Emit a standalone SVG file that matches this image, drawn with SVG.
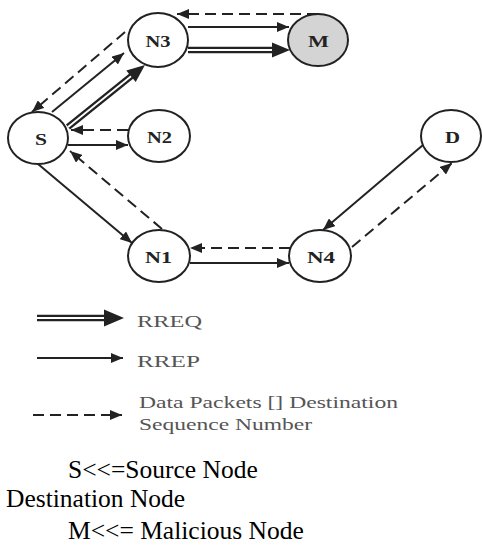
<svg xmlns="http://www.w3.org/2000/svg" width="482" height="545" viewBox="0 0 482 545">
<style>
.node{fill:#fff;stroke:#222;stroke-width:2}
.mal{fill:#d4d4d4;stroke:#222;stroke-width:2}
.lbl{font-family:"Liberation Serif",serif;font-weight:bold;font-size:17px;fill:#222;text-anchor:middle}
.solid{fill:none;stroke:#222;stroke-width:2}
.dash{fill:none;stroke:#222;stroke-width:2;stroke-dasharray:11 6}
.dbl{fill:none;stroke:#222;stroke-width:6.5}
.dblin{fill:none;stroke:#fff;stroke-width:1.8}
.head{fill:#222}
.leg{font-family:"Liberation Serif",serif;font-size:17px;fill:#555}
.cap{font-family:"Liberation Serif",serif;font-size:25.5px;fill:#000}
</style>
<defs>
<marker id="ah" viewBox="0 0 12 10" refX="12" refY="5" markerWidth="12" markerHeight="10" orient="auto" markerUnits="userSpaceOnUse"><path d="M0,0 L12,5 L0,10 z" fill="#222"/></marker>
</defs>
<g id="connectors">
<!-- RREQ double -->
<path class="dbl" d="M68,127 L132,75.5"/>
<path class="dblin" d="M68,127 L132,75.5"/>
<polygon class="head" points="145,65 135.7,82.1 126.3,70.5"/>
<path class="dbl" d="M188,50 L273,50"/>
<path class="dblin" d="M188,50 L273,50"/>
<polygon class="head" points="290,50 272,42.5 272,57.5"/>
<!-- RREP solid -->
<path class="solid" d="M188,27 L289,27" marker-end="url(#ah)"/>
<path class="solid" d="M52,112 L124,53" marker-end="url(#ah)"/>
<path class="solid" d="M68,145 L128,145" marker-end="url(#ah)"/>
<path class="solid" d="M38,164 L132,243" marker-end="url(#ah)"/>
<path class="solid" d="M190,263 L289,263" marker-end="url(#ah)"/>
<path class="solid" d="M423,145 L323,230" marker-end="url(#ah)"/>
<!-- Data dashed -->
<path class="dash" d="M318,14 L177,14" marker-end="url(#ah)"/>
<path class="dash" d="M125,32 L32,112" marker-end="url(#ah)"/>
<path class="dash" d="M128,130 L71,130" marker-end="url(#ah)"/>
<path class="dash" d="M162,229 L70,151" marker-end="url(#ah)"/>
<path class="dash" d="M290,248 L190,248" marker-end="url(#ah)"/>
<path class="dash" d="M352,247 L452,163" marker-end="url(#ah)"/>
</g>
<g id="S"><ellipse class="node" cx="38" cy="138" rx="30" ry="26"/><text class="lbl" x="41" y="145" textLength="12" lengthAdjust="spacingAndGlyphs">S</text></g>
<g id="N3"><ellipse class="node" cx="158" cy="40" rx="30" ry="27"/><text class="lbl" x="158" y="47" textLength="25" lengthAdjust="spacingAndGlyphs">N3</text></g>
<g id="M"><ellipse class="mal" cx="318" cy="40" rx="30" ry="26"/><text class="lbl" x="318.5" y="47" textLength="21" lengthAdjust="spacingAndGlyphs">M</text></g>
<g id="N2"><ellipse class="node" cx="159" cy="136" rx="31" ry="26"/><text class="lbl" x="159.5" y="143" textLength="25" lengthAdjust="spacingAndGlyphs">N2</text></g>
<g id="D"><ellipse class="node" cx="451" cy="136" rx="30" ry="26"/><text class="lbl" x="452.5" y="143" textLength="15" lengthAdjust="spacingAndGlyphs">D</text></g>
<g id="N1"><ellipse class="node" cx="159" cy="256" rx="31" ry="26"/><text class="lbl" x="158.5" y="263" textLength="27" lengthAdjust="spacingAndGlyphs">N1</text></g>
<g id="N4"><ellipse class="node" cx="320" cy="256" rx="31" ry="26"/><text class="lbl" x="321" y="263" textLength="28" lengthAdjust="spacingAndGlyphs">N4</text></g>
<g id="legend">
<path class="dbl" d="M37,318 L105,318"/>
<path class="dblin" d="M37,318 L105,318"/>
<polygon class="head" points="124,318 104,309.5 104,326.5"/>
<text class="leg" x="137" y="327" textLength="65" lengthAdjust="spacingAndGlyphs">RREQ</text>
<path class="solid" d="M37,358 L123,358" marker-end="url(#ah)"/>
<text class="leg" x="137" y="367" textLength="63" lengthAdjust="spacingAndGlyphs">RREP</text>
<path class="dash" d="M33,415 L122,415" marker-end="url(#ah)"/>
<text class="leg" x="139" y="408" textLength="259" lengthAdjust="spacingAndGlyphs">Data Packets [] Destination</text>
<text class="leg" x="139" y="430" textLength="173" lengthAdjust="spacingAndGlyphs">Sequence Number</text>
</g>
<g id="captions">
<text class="cap" x="68" y="478">S&lt;&lt;=Source Node</text>
<text class="cap" x="6" y="507">Destination Node</text>
<text class="cap" x="68" y="539">M&lt;&lt;= Malicious Node</text>
</g>
</svg>
